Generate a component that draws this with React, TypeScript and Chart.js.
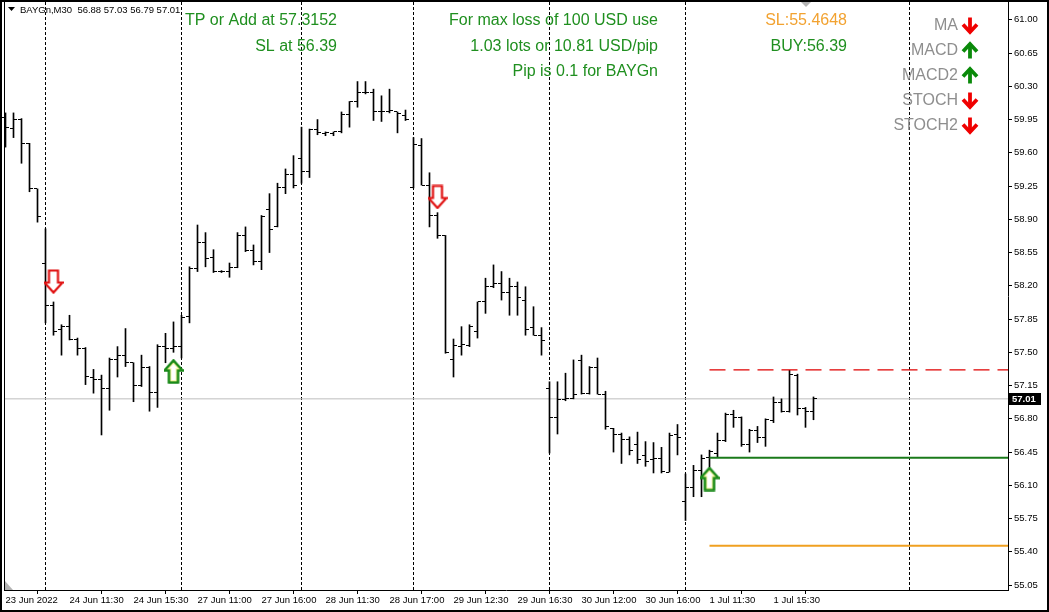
import React, { useEffect, useRef } from 'react';
import { Chart, registerables } from 'chart.js';

Chart.register(...registerables);

// ---------- data ----------
const headerText = 'BAYGn,M30  56.88 57.03 56.79 57.01';

const barOpen = [
  59.97, 59.86, 59.95, 59.70, 59.22, 58.43, 57.99, 57.74, 57.77, 57.64,
  57.54, 57.24, 57.21, 57.12, 57.42, 57.47, 57.39, 57.15, 57.34, 57.08,
  57.56, 57.54, 57.56, 57.88, 58.38, 58.66, 58.50, 58.35, 58.35, 58.39,
  58.73, 58.57, 58.46, 59.00, 58.82, 59.23, 59.37, 59.54, 59.40, 59.85,
  59.80, 59.80, 59.82, 60.00, 60.14, 60.24, 60.23, 60.03, 60.03, 60.03,
  59.99, 59.24, 59.68, 59.26, 58.94, 58.73, 57.42, 57.56, 57.57, 57.72,
  58.03, 58.19, 58.22, 58.13, 58.19, 58.05, 57.76, 57.68, 57.12, 56.81,
  57.00, 57.01, 57.41, 57.07, 57.34, 57.06, 56.70, 56.63, 56.58, 56.53,
  56.41, 56.37, 56.38, 56.24, 56.63, 55.93, 56.08, 56.26, 56.39, 56.44,
  56.57, 56.85, 56.81, 56.53, 56.68, 56.60, 56.78, 56.97, 56.88, 57.26,
  56.91, 56.88,
];
const barHigh = [
  60.02, 60.02, 59.96, 59.70, 59.22, 58.80, 58.03, 57.79, 57.89, 57.65,
  57.55, 57.32, 57.26, 57.44, 57.56, 57.75, 57.39, 57.47, 57.35, 57.58,
  57.70, 57.82, 57.89, 58.40, 58.84, 58.76, 58.58, 58.36, 58.44, 58.76,
  58.82, 58.63, 58.94, 59.17, 59.28, 59.43, 59.57, 59.87, 59.85, 59.95,
  59.82, 59.82, 60.03, 60.14, 60.35, 60.35, 60.27, 60.20, 60.27, 60.03,
  60.05, 59.76, 59.75, 59.39, 58.97, 58.73, 57.64, 57.77, 57.79, 58.03,
  58.28, 58.42, 58.35, 58.28, 58.24, 58.19, 57.98, 57.76, 57.19, 57.19,
  57.28, 57.42, 57.47, 57.35, 57.44, 57.09, 56.70, 56.65, 56.61, 56.66,
  56.56, 56.55, 56.50, 56.65, 56.74, 56.22, 56.31, 56.42, 56.47, 56.65,
  56.86, 56.89, 56.82, 56.69, 56.72, 56.80, 57.03, 57.01, 57.31, 57.27,
  56.92, 57.03,
];
const barLow = [
  59.66, 59.76, 59.49, 59.19, 58.87, 57.81, 57.68, 57.47, 57.63, 57.47,
  57.16, 57.07, 56.63, 56.89, 57.24, 57.35, 56.98, 57.14, 56.88, 56.92,
  57.39, 57.50, 57.44, 57.81, 58.35, 58.40, 58.34, 58.34, 58.29, 58.39,
  58.56, 58.42, 58.37, 58.55, 58.82, 59.17, 59.23, 59.28, 59.34, 59.79,
  59.78, 59.78, 59.81, 59.87, 60.08, 60.22, 59.94, 59.93, 60.02, 59.81,
  59.94, 59.23, 59.26, 58.82, 58.70, 57.49, 57.24, 57.47, 57.56, 57.65,
  57.91, 58.18, 58.05, 57.89, 57.89, 57.68, 57.68, 57.47, 56.44, 56.64,
  56.99, 57.01, 57.06, 57.06, 57.06, 56.69, 56.45, 56.33, 56.42, 56.33,
  56.30, 56.23, 56.23, 56.24, 56.42, 55.73, 55.98, 55.98, 56.29, 56.40,
  56.56, 56.71, 56.51, 56.45, 56.55, 56.51, 56.76, 56.87, 56.87, 56.84,
  56.71, 56.79,
];
const barClose = [
  59.87, 59.95, 59.70, 59.22, 58.93, 57.99, 57.72, 57.77, 57.64, 57.54,
  57.25, 57.21, 57.12, 57.42, 57.47, 57.39, 57.15, 57.34, 57.08, 57.56,
  57.54, 57.56, 57.87, 58.38, 58.66, 58.49, 58.35, 58.35, 58.39, 58.73,
  58.57, 58.46, 58.93, 58.79, 59.23, 59.37, 59.26, 59.40, 59.85, 59.81,
  59.81, 59.82, 60.00, 60.14, 60.24, 60.23, 60.03, 60.03, 60.05, 60.01,
  59.95, 59.69, 59.26, 58.94, 58.73, 57.50, 57.57, 57.58, 57.77, 58.03,
  58.19, 58.22, 58.13, 58.19, 58.08, 57.74, 57.68, 57.62, 56.81, 57.00,
  57.01, 57.06, 57.07, 57.34, 57.06, 56.72, 56.63, 56.58, 56.47, 56.37,
  56.35, 56.38, 56.25, 56.62, 56.60, 56.08, 56.26, 56.38, 56.46, 56.57,
  56.85, 56.81, 56.53, 56.68, 56.60, 56.79, 56.97, 56.88, 57.27, 56.91,
  56.88, 57.01,
];

const xTickBars = [0, 8, 16, 24, 32, 40, 48, 56, 64, 72, 80, 88, 96];
const xTickLabels = [
  '23 Jun 2022', '24 Jun 11:30', '24 Jun 15:30', '27 Jun 11:00', '27 Jun 16:00',
  '28 Jun 11:30', '28 Jun 17:00', '29 Jun 12:30', '29 Jun 16:30', '30 Jun 12:00',
  '30 Jun 16:00', '1 Jul 11:30', '1 Jul 15:30',
];
const yTickValues = [
  55.05, 55.40, 55.75, 56.10, 56.45, 56.80, 57.15, 57.50, 57.85,
  58.20, 58.55, 58.90, 59.25, 59.60, 59.95, 60.30, 60.65, 61.00,
];

const daySeparatorBars = [5, 22, 37, 51, 68, 85, 113];

const sellSignalBars = [6, 54];
const sellSignalPrices = [58.245, 59.135];
const buySignalBars = [21, 88];
const buySignalPrices = [57.298, 56.166];

const bidPrice = 57.01;
const tpPrice = 57.3152;
const buyPrice = 56.39;
const stopPrice = 55.4648;
const levelStartBar = 88;

const infoLeft = ['TP or Add at 57.3152', 'SL at 56.39'];
const infoMiddle = ['For max loss of 100 USD use', '1.03 lots or 10.81 USD/pip', 'Pip is 0.1 for BAYGn'];
const infoRightOrange = 'SL:55.4648';
const infoRightGreen = 'BUY:56.39';
const indicatorNames = ['MA', 'MACD', 'MACD2', 'STOCH', 'STOCH2'];
const indicatorUp = [false, true, true, false, false];

// ---------- axis range ----------
const X_MIN = -0.1875;
const X_MAX = 125.3125;
const Y_MIN = 54.998;
const Y_MAX = 61.1874;

const FONT = '"Liberation Sans", Arial, sans-serif';
const GREEN_TXT = '#1f8f1f';
const ORANGE = '#f2a230';
const GRAY_TXT = '#8e8e8e';

function makeSignalArrow(up: boolean, stroke: string, inner: string | null) {
  const c = document.createElement('canvas');
  c.width = 20;
  c.height = 25;
  const g = c.getContext('2d')!;
  const pts: [number, number][] = [
    [5.5, 1.5], [14.5, 1.5], [14.5, 13.5], [19, 13.5], [10, 23.5], [1, 13.5], [5.5, 13.5],
  ];
  g.beginPath();
  pts.forEach(([x, y], i) => {
    const yy = up ? 25 - y : y;
    if (i === 0) g.moveTo(x, yy); else g.lineTo(x, yy);
  });
  g.closePath();
  g.fillStyle = '#ffffff';
  g.fill();
  g.lineWidth = 2.2;
  g.lineJoin = 'miter';
  g.strokeStyle = stroke;
  g.stroke();
  if (inner) {
    g.save();
    g.clip();
    g.lineWidth = 4.5;
    g.strokeStyle = inner;
    g.globalAlpha = 0.5;
    g.stroke();
    g.restore();
    g.lineWidth = 2.2;
    g.strokeStyle = stroke;
    g.stroke();
  }
  return c;
}

function drawBoldArrow(ctx: CanvasRenderingContext2D, cx: number, cy: number, up: boolean, color: string) {
  const s = up ? -1 : 1;
  ctx.save();
  ctx.strokeStyle = color;
  ctx.lineWidth = 3.8;
  ctx.lineCap = 'butt';
  ctx.lineJoin = 'miter';
  ctx.beginPath();
  ctx.moveTo(cx, cy - 8 * s);
  ctx.lineTo(cx, cy + 6 * s);
  ctx.stroke();
  ctx.beginPath();
  ctx.moveTo(cx - 7, cy - 1 * s);
  ctx.lineTo(cx, cy + 6.5 * s);
  ctx.lineTo(cx + 7, cy - 1 * s);
  ctx.stroke();
  ctx.restore();
}

const ohlcTicksPlugin = {
  id: 'ohlcTicks',
  afterDatasetsDraw(chart: any) {
    const { ctx, scales } = chart;
    const xs = scales.x;
    const ys = scales.y;
    ctx.save();
    ctx.fillStyle = '#000';
    for (let i = 0; i < barOpen.length; i++) {
      const px = Math.floor(xs.getPixelForValue(i));
      const yo = Math.floor(ys.getPixelForValue(barOpen[i]));
      const yc = Math.floor(ys.getPixelForValue(barClose[i]));
      ctx.fillRect(px - 3, yo, 3, 1);
      ctx.fillRect(px + 1, yc, 3, 1);
    }
    ctx.restore();
  },
};

const decorPlugin = {
  id: 'decor',
  afterDraw(chart: any) {
    const { ctx, chartArea, scales } = chart;
    const W = chart.width;
    const H = chart.height;
    ctx.save();
    // chart frame (left)
    ctx.fillStyle = '#000';
    ctx.fillRect(Math.round(chartArea.left), 0, 1, Math.round(chartArea.bottom) + 1);
    // window border
    ctx.fillRect(0, 0, W, 2);
    ctx.fillRect(0, 0, 2, H);
    ctx.fillRect(W - 2, 0, 2, H);
    ctx.fillRect(0, H - 2, W, 2);

    // header
    ctx.beginPath();
    ctx.moveTo(8, 7);
    ctx.lineTo(15, 7);
    ctx.lineTo(11.5, 11);
    ctx.closePath();
    ctx.fill();
    ctx.font = `9.5px ${FONT}`;
    ctx.textAlign = 'left';
    ctx.textBaseline = 'alphabetic';
    ctx.fillText(headerText, 20, 13);

    // info texts
    ctx.font = `16px ${FONT}`;
    ctx.textAlign = 'right';
    ctx.textBaseline = 'middle';
    ctx.fillStyle = GREEN_TXT;
    infoLeft.forEach((t, i) => ctx.fillText(t, 337, 21 + i * 25.5));
    infoMiddle.forEach((t, i) => ctx.fillText(t, 658, 21 + i * 25.5));
    ctx.fillStyle = ORANGE;
    ctx.fillText(infoRightOrange, 847, 21);
    ctx.fillStyle = GREEN_TXT;
    ctx.fillText(infoRightGreen, 847, 46.5);

    // indicator panel
    indicatorNames.forEach((n, i) => {
      const cy = 25.5 + i * 25;
      ctx.fillStyle = GRAY_TXT;
      ctx.fillText(n, 958, cy + 0.5);
      drawBoldArrow(ctx, 970, cy, indicatorUp[i], indicatorUp[i] ? '#0a8a0a' : '#f00000');
    });

    // bid price label on axis
    const by = scales.y.getPixelForValue(bidPrice);
    ctx.fillStyle = '#000';
    ctx.fillRect(1009, Math.round(by) - 6, 32, 12);
    ctx.fillStyle = '#fff';
    ctx.font = `bold 9.5px ${FONT}`;
    ctx.textAlign = 'left';
    ctx.textBaseline = 'middle';
    ctx.fillText(bidPrice.toFixed(2), 1012, Math.round(by) + 0.5);

    // chart shift marker and scale marker
    ctx.fillStyle = '#b4b4b4';
    ctx.beginPath();
    ctx.moveTo(801, 2);
    ctx.lineTo(811, 2);
    ctx.lineTo(806, 7);
    ctx.closePath();
    ctx.fill();
    ctx.beginPath();
    ctx.moveTo(Math.round(chartArea.left) + 1, Math.round(chartArea.bottom) - 9);
    ctx.lineTo(Math.round(chartArea.left) + 1, Math.round(chartArea.bottom));
    ctx.lineTo(Math.round(chartArea.left) + 9, Math.round(chartArea.bottom));
    ctx.closePath();
    ctx.fill();
    ctx.restore();
  },
};

export default function App() {
  const ref = useRef<HTMLCanvasElement>(null);

  useEffect(() => {
    document.body.style.margin = '0';
    const canvas = ref.current!;

    const sellImg = makeSignalArrow(false, '#e01010', null);
    const buyImg = makeSignalArrow(true, '#1a8a1a', '#e8e840');

    const separators = daySeparatorBars.map((b) => ({
      type: 'line' as const,
      data: [{ x: b, y: Y_MIN }, { x: b, y: Y_MAX }],
      borderColor: '#000',
      borderWidth: 1,
      borderDash: [3, 2],
      pointRadius: 0,
      order: 20,
    }));

    const chart = new Chart(canvas, {
      type: 'scatter',
      data: {
        datasets: [
          ...separators,
          {
            type: 'line',
            data: [{ x: X_MIN, y: bidPrice }, { x: X_MAX, y: bidPrice }],
            borderColor: '#bdbdbd',
            borderWidth: 1,
            pointRadius: 0,
            order: 19,
          },
          {
            type: 'bar',
            data: barLow.map((l, i) => ({ x: i, y: [l, barHigh[i]] })),
            backgroundColor: '#000',
            barThickness: 1,
            grouped: false,
            order: 10,
          },
          {
            type: 'line',
            data: [{ x: levelStartBar, y: tpPrice }, { x: X_MAX, y: tpPrice }],
            borderColor: '#e00000',
            borderWidth: 1.3,
            borderDash: [16, 8],
            pointRadius: 0,
            order: 5,
          },
          {
            type: 'line',
            data: [{ x: levelStartBar, y: buyPrice }, { x: X_MAX, y: buyPrice }],
            borderColor: '#1a7a1a',
            borderWidth: 2,
            pointRadius: 0,
            order: 5,
          },
          {
            type: 'line',
            data: [{ x: levelStartBar, y: stopPrice }, { x: X_MAX, y: stopPrice }],
            borderColor: '#f0a020',
            borderWidth: 2,
            pointRadius: 0,
            order: 5,
          },
          {
            type: 'scatter',
            data: sellSignalBars.map((b, i) => ({ x: b, y: sellSignalPrices[i] })),
            pointStyle: sellImg,
            pointRadius: 5,
            order: 1,
          },
          {
            type: 'scatter',
            data: buySignalBars.map((b, i) => ({ x: b, y: buySignalPrices[i] })),
            pointStyle: buyImg,
            pointRadius: 5,
            order: 1,
          },
        ] as any,
      },
      options: {
        responsive: false,
        animation: false,
        devicePixelRatio: 1,
        layout: { autoPadding: false, padding: { left: 4, top: 2, right: 0, bottom: 0 } },
        plugins: {
          legend: { display: false },
          tooltip: { enabled: false },
        },
        events: [],
        scales: {
          x: {
            type: 'linear',
            position: 'bottom',
            min: X_MIN,
            max: X_MAX,
            offset: false,
            grid: { drawOnChartArea: false, drawTicks: true, tickLength: 4, color: '#000' },
            border: { display: true, color: '#000', width: 1 },
            ticks: {
              autoSkip: false,
              maxRotation: 0,
              minRotation: 0,
              align: 'start',
              labelOffset: 0,
              padding: 1,
              color: '#000',
              font: { family: FONT, size: 9.5 },
              callback: (_v: any, i: number) => xTickLabels[i],
            },
            afterBuildTicks: (s: any) => {
              s.ticks = xTickBars.map((v) => ({ value: v }));
            },
            afterFit: (s: any) => {
              s.height = 22;
              s.paddingLeft = 0;
              s.paddingRight = 0;
            },
          },
          y: {
            type: 'linear',
            position: 'right',
            min: Y_MIN,
            max: Y_MAX,
            grid: { drawOnChartArea: false, drawTicks: true, tickLength: 4, color: '#000' },
            border: { display: true, color: '#000', width: 1 },
            ticks: {
              padding: 2,
              color: '#000',
              font: { family: FONT, size: 9.5 },
              callback: (v: any) => Number(v).toFixed(2),
            },
            afterBuildTicks: (s: any) => {
              s.ticks = yTickValues.map((v) => ({ value: v }));
            },
            afterFit: (s: any) => {
              s.width = 41;
              s.paddingTop = 0;
              s.paddingBottom = 0;
            },
          },
        },
      } as any,
      plugins: [ohlcTicksPlugin, decorPlugin],
    });
    return () => chart.destroy();
  }, []);

  return (
    <div style={{ width: 1049, height: 612, background: '#fff' }}>
      <canvas ref={ref} width={1049} height={612} style={{ display: 'block' }} />
    </div>
  );
}
